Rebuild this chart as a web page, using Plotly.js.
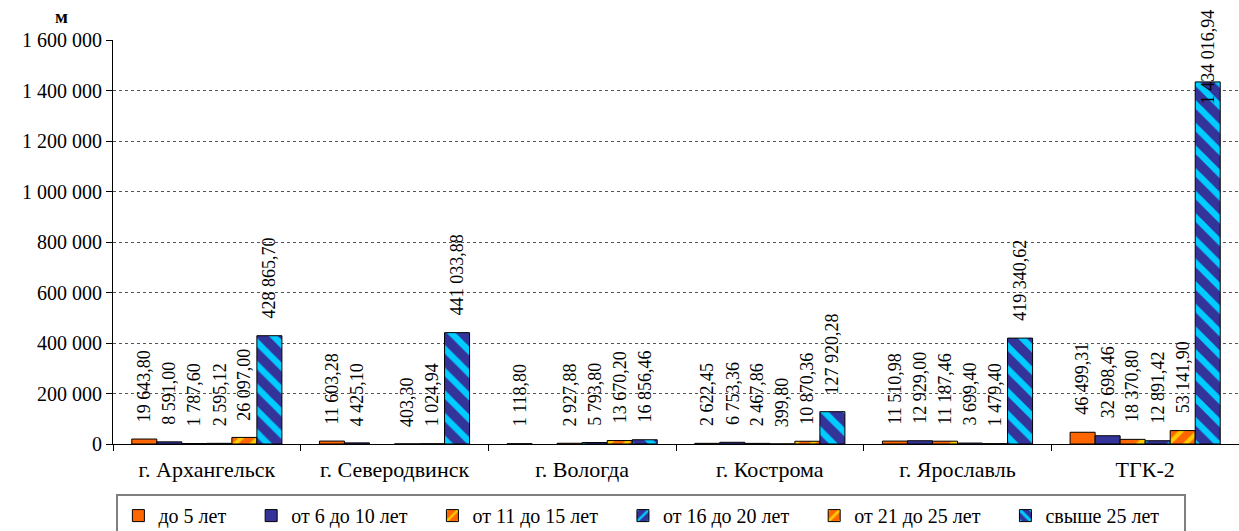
<!DOCTYPE html>
<html>
<head>
<meta charset="utf-8">
<script src="https://cdn.plot.ly/plotly-3.0.1.min.js"></script>
<style>html,body{margin:0;padding:0;background:#fff;}#chart{width:1239px;height:531px;}</style>
</head>
<body>
<div id="chart"></div>
<script>
// ---- data ----
const categories = ['г. Архангельск', 'г. Северодвинск', 'г. Вологда', 'г. Кострома', 'г. Ярославль', 'ТГК-2'];
const seriesNames = ['до 5 лет', 'от 6 до 10 лет', 'от 11 до 15 лет', 'от 16 до 20 лет', 'от 21 до 25 лет', 'свыше 25 лет'];
const upTo5   = [19643.80, 11603.28, 1118.80, 2622.45, 11510.98, 46499.31];
const from6   = [8591.00, 4425.10, null, 6753.36, 12929.00, 32698.46];
const from11  = [1787.60, null, 2927.88, 2467.86, 11187.46, 18370.80];
const from16  = [2595.12, 403.30, 5793.80, 399.80, 3699.40, 12891.42];
const from21  = [26097.00, 1024.94, 13670.20, 10870.36, 1479.40, 53141.90];
const over25  = [428865.70, 441033.88, 16856.46, 127920.28, 419340.62, 1434016.94];
const yTicks = [0, 200000, 400000, 600000, 800000, 1000000, 1200000, 1400000, 1600000];

const allSeries = [upTo5, from6, from11, from16, from21, over25];

// ---- styles ----
const FONT = 'Liberation Serif';
const styles = [
  {color: '#FF6600'},
  {color: '#333399'},
  {color: '#FF6600', pattern: {shape: '/', fgcolor: '#FFCC00', bgcolor: '#FF6600', size: 22, solidity: 0.3}},
  {color: '#333399', pattern: {shape: '/', fgcolor: '#00CCFF', bgcolor: '#333399', size: 22, solidity: 0.3}},
  {color: '#FF6600', pattern: {shape: '/', fgcolor: '#FFCC00', bgcolor: '#FF6600', size: 12, solidity: 0.35}},
  {color: '#333399', pattern: {shape: '\\', fgcolor: '#00CCFF', bgcolor: '#333399', size: 16, solidity: 0.4}}
];

const BARGAP = 0.2;
const yMax = yTicks[yTicks.length - 1];
const PAD = '\u00a0'.repeat(4);

function fmt(v) {
  const p = v.toFixed(2).split('.');
  return p[0].replace(/\B(?=(\d{3})+(?!\d))/g, ' ') + ',' + p[1];
}

const traces = allSeries.map((vals, j) => ({
  type: 'bar',
  name: seriesNames[j] + PAD,
  x: categories,
  y: vals,
  marker: Object.assign({line: {color: '#000', width: 1}}, styles[j]),
  hoverinfo: 'x+y'
}));

// value labels: rotated, above each bar
const n = allSeries.length;
const slot = (1 - BARGAP) / n;
const annotations = [];
allSeries.forEach((vals, j) => {
  const off = -(1 - BARGAP) / 2 + (j + 0.5) * slot;
  vals.forEach((v, i) => {
    if (v === null) return;
    const tooHigh = v > yMax * 0.8;
    annotations.push({
      x: i + off, xref: 'x',
      y: tooHigh ? 1 : v, yref: tooHigh ? 'paper' : 'y',
      yanchor: tooHigh ? 'top' : 'bottom', xanchor: 'center',
      yshift: tooHigh ? 33 : 15,
      text: fmt(v), textangle: -90, showarrow: false,
      font: {family: FONT, size: 18, color: '#000'}
    });
  });
});
annotations.push({
  xref: 'paper', yref: 'paper', x: -0.046, y: 1.057, xanchor: 'center', yanchor: 'middle',
  text: '<b>м</b>', showarrow: false, font: {family: FONT, size: 19, color: '#000'}
});

const layout = {
  width: 1239, height: 531,
  margin: {l: 113, r: 0, t: 40, b: 87, autoexpand: false},
  paper_bgcolor: '#fff', plot_bgcolor: '#fff',
  separators: ', ',
  barmode: 'group', bargap: BARGAP, bargroupgap: 0,
  font: {family: FONT, color: '#000'},
  showlegend: true,
  legend: {
    orientation: 'h', x: 0.003, xanchor: 'left', y: -0.124, yanchor: 'top',
    bordercolor: '#7f7f7f', borderwidth: 2,
    font: {family: FONT, size: 20, color: '#000'},
    traceorder: 'normal'
  },
  xaxis: {
    type: 'category', automargin: false,
    showline: true, linecolor: '#000', linewidth: 1,
    ticks: 'outside', ticklen: 6, tickcolor: '#000', tickson: 'boundaries',
    ticklabelstandoff: 6,
    tickfont: {family: FONT, size: 22, color: '#000'},
    showgrid: false, fixedrange: true
  },
  yaxis: {
    range: [0, yMax], tickvals: yTicks, tickformat: ',d', automargin: false,
    showline: true, linecolor: '#000', linewidth: 1,
    ticks: 'outside', ticklen: 6, tickcolor: '#000',
    tickfont: {family: FONT, size: 20, color: '#000'},
    showgrid: true, gridcolor: '#555', griddash: 'dot', gridwidth: 1,
    zeroline: false, fixedrange: true
  },
  annotations: annotations
};

Plotly.newPlot('chart', traces, layout, {displayModeBar: false, staticPlot: true});
</script>
</body>
</html>
